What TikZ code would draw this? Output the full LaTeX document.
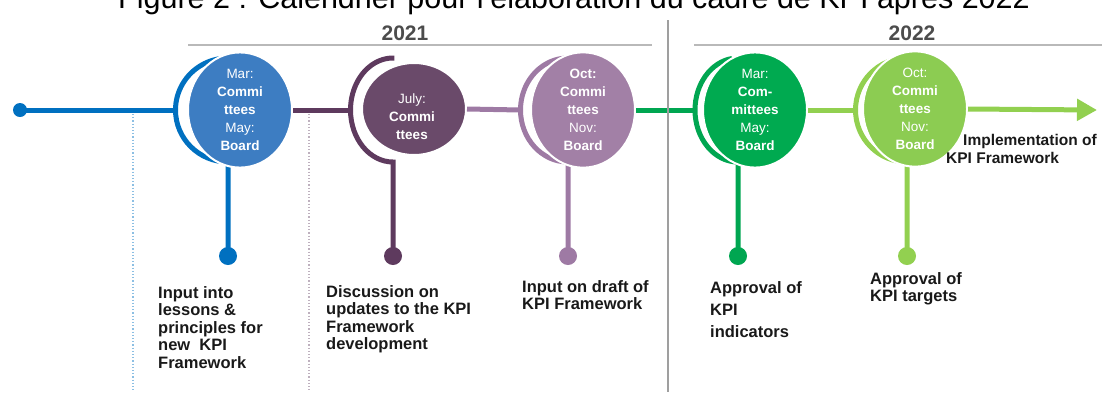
\documentclass[tikz,border=0pt]{standalone}
\usepackage{fontspec}
\setmainfont{Liberation Sans}
\usetikzlibrary{shapes.geometric,arrows.meta}
\definecolor{azulT}{RGB}{0,112,192}
\definecolor{azulF}{RGB}{61,125,194}
\definecolor{roxoT}{RGB}{94,58,94}
\definecolor{roxoF}{RGB}{106,74,106}
\definecolor{lilasT}{RGB}{158,122,164}
\definecolor{lilasF}{RGB}{162,128,166}
\definecolor{verdeT}{RGB}{0,166,81}
\definecolor{verdeF}{RGB}{0,170,80}
\definecolor{limaT}{RGB}{146,208,80}
\definecolor{limaF}{RGB}{140,204,82}
\begin{document}
\begin{tikzpicture}[x=1pt,y=-1pt,
	linha/.style={line width=5pt},
	ponto/.style={circle,inner sep=0pt,minimum size=18pt},
	rotulo/.style={text=white,align=center,font=\fontsize{13.5}{18}\selectfont\bfseries},
	bola/.style={ellipse,inner sep=0pt,minimum width=104pt,minimum height=92pt,draw=white,line width=2pt,rotulo},
	nota/.style={anchor=north west,inner sep=0pt,align=left,text=black!90,font=\fontsize{16.5}{17.5}\selectfont\bfseries},
	ano/.style={text=black!70,font=\fontsize{21}{21}\selectfont\bfseries},
	regua/.style={gray!55,line width=2pt}]
		\useasboundingbox (0,0) rectangle (1102,392);
		\clip (0,0) rectangle (1102,392);
		\node[anchor=base,font=\fontsize{30.5}{30.5}\selectfont] (titulo) at (574,8) {Figure 2 : Calendrier pour l'élaboration du cadre de KPI après 2022};	% Título (cortado)
		
		% Anos
		\node[ano] (a2021) at (405,33) {2021};
		\draw[regua] (188,45) -- (652,45);
		\node[ano] (a2022) at (912,33) {2022};
		\draw[regua] (694,45) -- (1102,45);
		
		% Linhas pontilhadas
		\draw[azulT!45,dotted,line width=1.2pt] (133,114) -- (133,392);
		\draw[roxoT!40,dotted,line width=1.2pt] (309,114) -- (309,392);
		
		% Pontos de ligação (esquerda do arco e pé do arco)
		\coordinate (e1) at (175.5,110);	\coordinate (s1) at (228,162);
		\coordinate (e2) at (350.5,110);	\coordinate (s2) at (393,162);
		\coordinate (e3) at (520.5,110);	\coordinate (s3) at (568,162);
		\coordinate (e4) at (695,110);		\coordinate (s4) at (738,162);
		\coordinate (e5) at (855.5,110);	\coordinate (s5) at (907,162);
		
		% Pontos de baixo
		\node[ponto,fill=azulT] (d1) at (228,256) {};
		\node[ponto,fill=roxoT] (d2) at (393,256) {};
		\node[ponto,fill=lilasT] (d3) at (568,256) {};
		\node[ponto,fill=verdeT] (d4) at (738,256) {};
		\node[ponto,fill=limaT] (d5) at (907,256) {};
		
		% Hastes e arcos
		\draw[linha,azulT] (d1.center) -- (s1) arc[start angle=270,end angle=88,x radius=52.5pt,y radius=52pt];
		\draw[linha,roxoT] (d2.center) -- (s2) arc[start angle=270,end angle=88,x radius=42.5pt,y radius=52pt];
		\draw[linha,lilasT] (d3.center) -- (s3) arc[start angle=270,end angle=86,x radius=47.5pt,y radius=52pt];
		\draw[linha,verdeT] (d4.center) -- (s4) arc[start angle=270,end angle=98,x radius=43pt,y radius=52pt];
		\draw[linha,limaT] (d5.center) -- (s5) arc[start angle=270,end angle=90,x radius=51.5pt,y radius=52pt];
		
		% Círculos
		\node[bola,fill=azulF] (m1) at (240,110) {{\mdseries Mar:}\\Commi\\ttees\\{\mdseries May:}\\Board};
		\node[bola,fill=roxoF] (m2) at (414,109) {};
		\node[rotulo] (m2t) at (412,117) {{\mdseries July:}\\Commi\\ttees};
		\node[bola,fill=lilasF] (m3) at (583,110) {Oct:\\Commi\\ttees\\{\mdseries Nov:}\\Board};
		\node[bola,fill=verdeF] (m4) at (755,110) {{\mdseries Mar:}\\Com-\\mittees\\{\mdseries May:}\\Board};
		\node[bola,fill=limaF] (m5) at (915,109) {{\mdseries Oct:}\\Commi\\ttees\\{\mdseries Nov:}\\Board};
		
		% Linha do tempo
		\node[ponto,fill=azulT,minimum size=14pt] (inicio) at (20,110) {};
		\coordinate (fim) at (1097,110);
		\draw[linha,azulT] (inicio.center) -- (e1);
		\draw[linha,roxoT] (m1.east) -- (e2);
		\draw[linha,lilasT] (m2.east) -- (e3);
		\draw[linha,verdeT] (m3.east) -- (e4);
		\draw[linha,limaT] (m4.east) -- (e5);
		\draw[linha,limaT,-{Triangle[length=20pt,width=21pt]}] (m5.east) -- (fim);
		
		% Textos
		\node[nota,font=\fontsize{15.5}{18.5}\selectfont\bfseries] (impl) at (946,134) {\hspace*{17pt}Implementation of\\KPI Framework};
		\node[nota] (n1) at (158,286) {Input into\\lessons \&\\principles for\\new~~KPI\\Framework};
		\node[nota] (n2) at (326,285) {Discussion on\\updates to the KPI\\Framework\\development};
		\node[nota] (n3) at (522,280) {Input on draft of\\KPI Framework};
		\node[nota,font=\fontsize{16.5}{22}\selectfont\bfseries] (n4) at (710,281) {Approval of\\KPI\\indicators};
		\node[nota] (n5) at (870,272) {Approval of\\KPI targets};
		
		\draw[gray!75,line width=1.5pt] (668,20) -- (668,392);		% Divisão 2021/2022
	\end{tikzpicture}
\end{document}
